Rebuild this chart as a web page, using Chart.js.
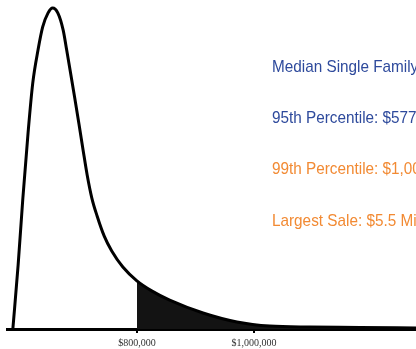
<!DOCTYPE html>
<html>
<head>
<meta charset="utf-8">
<script src="https://cdn.jsdelivr.net/npm/chart.js@4.4.1/dist/chart.umd.min.js"></script>
<style>
    html, body { margin: 0; padding: 0; background: #fff; }
    #wrap { width: 416px; height: 349px; overflow: hidden; }
</style>
</head>
<body>
<div id="wrap"><canvas id="priceChart" width="416" height="349"></canvas></div>
<script>
// Sale price (x) and relative frequency (peak = 100)
const salePrice = [588000, 597000, 605000, 614000, 622000, 631000, 639000, 648000,
    656000, 665000, 674000, 680000, 687000, 694000, 701000, 708000, 715000,
    723000, 732000, 744000, 757000, 776000, 800000, 826000, 856000, 913000,
    971000, 1027000, 1096000, 1181000, 1277000];
const frequency = [0, 19.9, 40.5, 61.1, 76.6, 86.9, 94.1, 98.4,
    100, 98.4, 93.1, 86.9, 79.4, 71.7, 63.9, 55.8, 48.0,
    40.8, 35.2, 29.0, 24.3, 19.3, 15.0, 11.8, 9.0, 5.0,
    2.2, 0.9, 0.6, 0.5, 0.3];

// Shaded tail starts here
const shadeFrom = 800000;

// x axis ticks
const tickValues = [800000, 1000000];
const tickLabels = ['$800,000', '$1,000,000'];

// Notes on the right
const blueNotes = ['Median Single Family', '95th Percentile: $577,000'];
const orangeNotes = ['99th Percentile: $1,000,000', 'Largest Sale: $5.5 Million'];

const curvePoints = salePrice.map((x, i) => ({ x: x, y: frequency[i] }));
const tailPoints = curvePoints.filter(p => p.x >= shadeFrom);

// Draw the text notes after the chart
const notesPlugin = {
    id: 'notes',
    afterDraw(chart) {
        const ctx = chart.ctx;
        const lines = [
            { text: blueNotes[0], color: '#2e4a9c', y: 72 },
            { text: blueNotes[1], color: '#2e4a9c', y: 123 },
            { text: orangeNotes[0], color: '#f28a33', y: 174 },
            { text: orangeNotes[1], color: '#f28a33', y: 226 }
        ];
        ctx.save();
        ctx.font = '17px "Liberation Sans", Arial, sans-serif';
        ctx.textBaseline = 'alphabetic';
        lines.forEach(l => {
            ctx.save();
            ctx.translate(272, l.y);
            ctx.scale(0.9, 1);
            ctx.fillStyle = l.color;
            ctx.fillText(l.text, 0, 0);
            ctx.restore();
        });
        ctx.restore();
    }
};

const ctx = document.getElementById('priceChart').getContext('2d');
new Chart(ctx, {
    type: 'line',
    data: {
        datasets: [{
            data: curvePoints,
            borderColor: '#000',
            borderWidth: 3,
            pointRadius: 0,
            cubicInterpolationMode: 'monotone',
            fill: false
        }, {
            data: tailPoints,
            borderWidth: 0,
            borderColor: 'rgba(0,0,0,0)',
            backgroundColor: '#131313',
            pointRadius: 0,
            cubicInterpolationMode: 'monotone',
            fill: 'origin'
        }]
    },
    options: {
        responsive: false,
        animation: false,
        devicePixelRatio: 1,
        layout: { padding: { left: 7, right: 0, top: 0, bottom: 0 } },
        plugins: {
            legend: { display: false },
            tooltip: { enabled: false }
        },
        scales: {
            x: {
                type: 'linear',
                min: 578000,
                max: 1277000,
                afterBuildTicks: function (scale) {
                    scale.ticks = tickValues.map(v => ({ value: v }));
                },
                afterFit: function (scale) {
                    scale.height = 20;
                },
                ticks: {
                    callback: function (value) {
                        return tickLabels[tickValues.indexOf(value)];
                    },
                    font: { family: '"Liberation Serif", serif', size: 10 },
                    color: '#333',
                    padding: 4,
                    maxRotation: 0
                },
                grid: {
                    drawOnChartArea: false,
                    drawTicks: true,
                    tickLength: 4,
                    color: '#000',
                    lineWidth: 2
                },
                border: { display: true, color: '#000', width: 3 }
            },
            y: {
                display: false,
                min: 0,
                max: 102.5
            }
        }
    },
    plugins: [notesPlugin]
});
</script>
</body>
</html>
